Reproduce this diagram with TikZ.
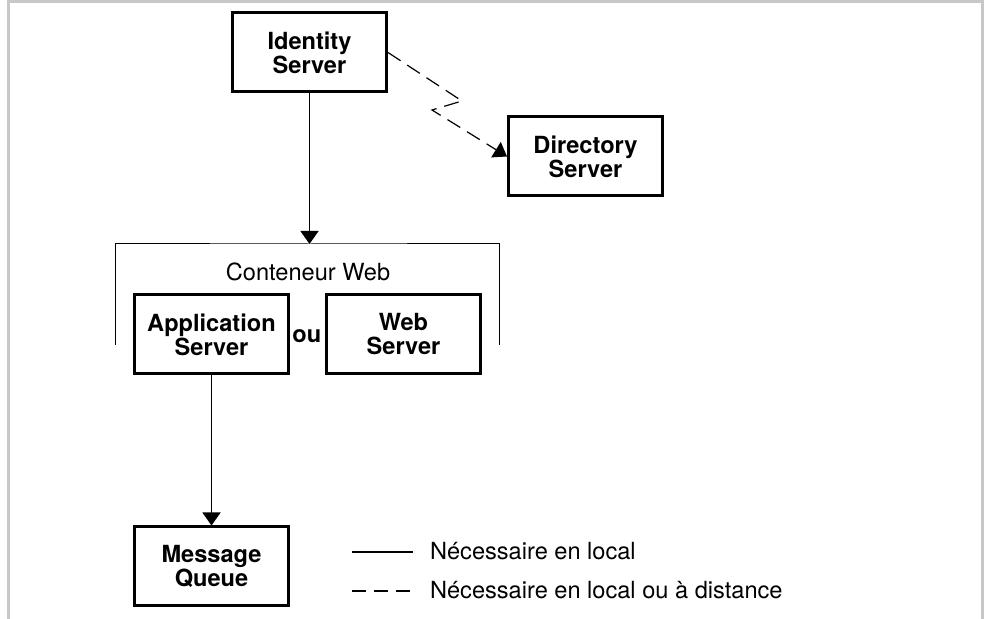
\documentclass[tikz,border=0pt]{standalone}
\usepackage{fontspec}
\setmainfont{TeX Gyre Heros}
\usetikzlibrary{arrows.meta}
\usetikzlibrary{positioning}
\definecolor{framegray}{RGB}{200,200,200}
\tikzset{auto,>={Triangle[width=9pt,length=6.5pt]}, node distance=1cm, font=\fontsize{11.8}{12}\selectfont}
\tikzstyle{server} = [draw, line width=1.5pt, rectangle, minimum height=39.5pt, minimum width=77pt, text centered, align=center, font=\fontsize{11.8}{12}\selectfont\bfseries]
\tikzstyle{caption} = [inner sep=3.33pt]
\tikzstyle{point} = [coordinate]
\tikzstyle{local} = [draw, line width=0.75pt]
\tikzstyle{remote} = [draw, line width=0.6pt, dash pattern=on 7.5pt off 4pt]
\tikzstyle{bracket} = [draw, line width=0.5pt]

\begin{document}
\begin{tikzpicture}[x=0.5pt, y=-0.5pt]
    \useasboundingbox (0,0) rectangle (986,619);
    \draw [framegray, line width=1.5pt] (8.5,630) |- (982.5,1.5) -- (982.5,630);

    \node [server] (ids) at (309.5,52.5) {Identity\\Server};
    \node [server, below right=11pt and 59.5pt of ids] (dir) {Directory\\Server};
    \node [server] (app) at (211.5,334.5) {Application\\Server};
    \node [server, right=17.5pt of app] (web) {Web\\Server};
    \node [server, below=75pt of app] (mq) {Message\\Queue};
    \node [right=1pt of app, inner sep=0pt, yshift=-1pt, font=\fontsize{11.8}{12}\selectfont\bfseries] (ou) {ou};
    \node [caption] (wclabel) at (308,272) {Conteneur Web};
    \node [point] (wcleft) at (115,345) {};
    \node [point] (wcright) at (499,345) {};
    \node [point] (wctop) at (ids.south |- 0,244) {};

    \node [caption, anchor=west] (lglocal) at (423,551) {Nécessaire en local};
    \node [caption, anchor=west] (lgremote) at (423,590) {Nécessaire en local ou à distance};
    \node [point] (lglocal0) at (352,552) {};
    \node [point] (lgremote0) at (352,591) {};

    \draw [local, ->] (ids) -- (wctop);
    \draw [bracket] (wcleft) |- (wctop) -| (wcright);
    \draw [local, ->] (app) -- (mq);
    \draw [remote, ->] (ids.east) -- ++(37pt,-24.25pt) -- ++(-15pt,-4.5pt) -- (dir.west);
    \draw [local] (lglocal0) -- ([xshift=-5pt]lglocal.west |- lglocal0);
    \draw [remote, dash pattern=on 7pt off 4pt] (lgremote0) -- ([xshift=-5pt]lgremote.west |- lgremote0);
\end{tikzpicture}
\end{document}
